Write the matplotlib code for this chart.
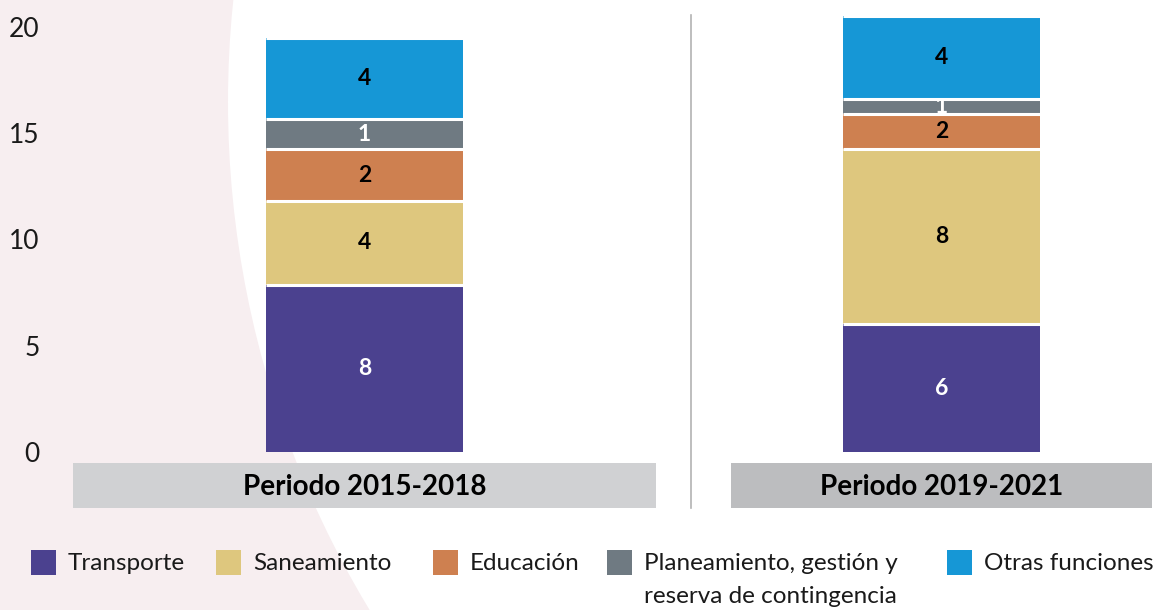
import matplotlib
matplotlib.use("Agg")
import matplotlib.pyplot as plt
from matplotlib.patches import Rectangle, Ellipse
import numpy as np

plt.rcParams['font.family'] = ['Lato', 'DejaVu Sans']

# datos por periodo (puntos porcentuales aprox.)
periodos = ["Periodo 2015-2018", "Periodo 2019-2021"]
funciones = ["Transporte", "Saneamiento", "Educación",
             "Planeamiento, gestión y\nreserva de contingencia", "Otras funciones"]
transporte = [7.87, 6.0]
saneamiento = [3.92, 8.23]
educacion = [2.44, 1.65]
planeamiento = [1.41, 0.73]
otras = [3.82, 3.9]

colores = ["#4b418f", "#dec77e", "#ce8050", "#6f7a82", "#1697d6"]
color_texto = ["white", "black", "black", "white", "black"]
cajas = ["#d0d1d3", "#bcbdbf"]

W, H = 1161, 610
fig = plt.figure(figsize=(W / 100, H / 100), dpi=100)
fig.patch.set_facecolor("#f7eef0")

# fondo blanco circular
cx, cy, R = 1210, 102, 982
fig.add_artist(Ellipse((cx / W, 1 - cy / H), 2 * R / W, 2 * R / H,
                       transform=fig.transFigure, facecolor="white",
                       edgecolor="none", zorder=-10))

# ejes: escala en pixeles -> unidades
x0_px, px_x = 364.5, 577.0
y0_px, px_y = 452.0, 21.27
left_px, right_px = 73, 1152
ymax = 20.7
ax = fig.add_axes([left_px / W, (H - y0_px) / H,
                   (right_px - left_px) / W, ymax * px_y / H])
ax.set_facecolor("none")
ax.set_xlim((left_px - x0_px) / px_x, (right_px - x0_px) / px_x)
ax.set_ylim(0, ymax)
for s in ax.spines.values():
    s.set_visible(False)
ax.set_xticks([])
ax.set_yticks([0, 5, 10, 15, 20])
ax.tick_params(axis="y", length=0, pad=24, labelsize=19, labelcolor="#1a1a1a")

x = np.arange(len(periodos))
ancho = 197 / px_x
series = [transporte, saneamiento, educacion, planeamiento, otras]
base = np.zeros(len(periodos))
for serie, col, tcol in zip(series, colores, color_texto):
    vals = np.array(serie)
    barras = ax.bar(x, vals, ancho, bottom=base, color=col, zorder=2)
    for rect, v, b in zip(barras, vals, base):
        t = ax.text(rect.get_x() + rect.get_width() / 2, b + v / 2, f"{v:.0f}",
                    ha="center", va="center", color=tcol, fontsize=16.5,
                    fontweight="bold", zorder=3, clip_on=True)
        t.set_clip_path(rect)
    base = base + vals
    # separacion blanca entre segmentos
    ax.hlines(base, x - ancho / 2, x + ancho / 2, colors="white",
              linewidth=2.2, zorder=4)

# cajas de periodo debajo de las barras
cajas_px = [(73, 656), (731, 1152)]
y_top = (y0_px - 463) / px_y
y_bot = (y0_px - 508) / px_y
for (a, b), col, nombre in zip(cajas_px, cajas, periodos):
    xa, xb = (a - x0_px) / px_x, (b - x0_px) / px_x
    ax.add_patch(Rectangle((xa, y_bot), xb - xa, y_top - y_bot, facecolor=col,
                           edgecolor="none", clip_on=False))
    ax.text((xa + xb) / 2, (y_top + y_bot) / 2 - 0.05, nombre, ha="center",
            va="center", fontsize=20, fontweight="bold", color="black",
            clip_on=False)

# linea divisoria
xs = (691 - x0_px) / px_x
ax.plot([xs, xs], [(y0_px - 15) / px_y, y_bot], color="#b3b3b3", lw=1.2,
        clip_on=False)

# leyenda
ley_x = [31, 216, 433, 607, 947]
ley_y = 562
lado = 25
for lx, col, nombre in zip(ley_x, colores, funciones):
    fig.add_artist(Rectangle((lx / W, 1 - (ley_y + lado / 2) / H), lado / W, lado / H,
                             transform=fig.transFigure, facecolor=col,
                             edgecolor="none"))
    fig.text((lx + lado + 12) / W, 1 - (ley_y - 9) / H, nombre, ha="left",
             va="top", fontsize=17.5, color="#1a1a1a", linespacing=1.7)

fig.savefig("out.png", dpi=100, facecolor=fig.get_facecolor())
